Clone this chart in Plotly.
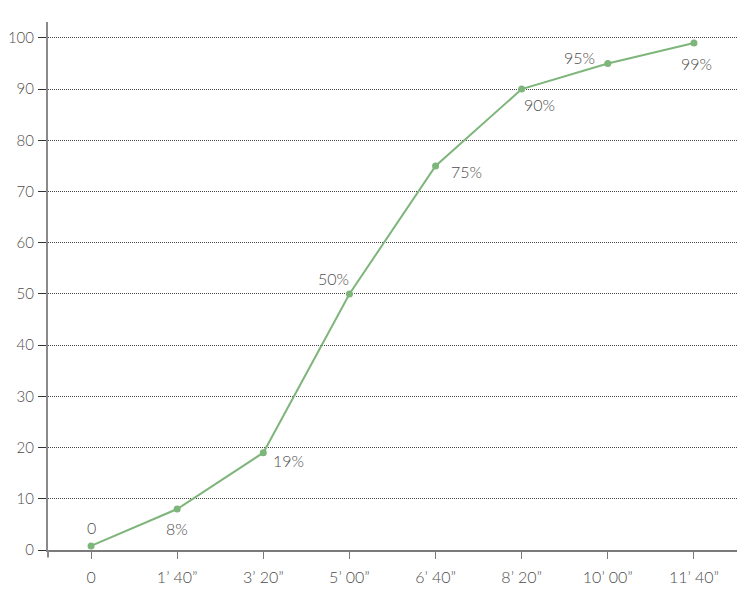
import plotly.graph_objects as go

categories = ["0", "1’ 40”", "3’ 20”", "5’ 00”", "6’ 40”", "8’ 20”", "10’ 00”", "11’ 40”"]
values = [0.8, 8, 19, 50, 75, 90, 95, 99]
labels = ["0", "8%", "19%", "50%", "75%", "90%", "95%", "99%"]
y_ticks = [0, 10, 20, 30, 40, 50, 60, 70, 80, 90, 100]

# label offsets in pixels (style only)
offsets = [(0, 18), (0, -19), (25, -8), (-16, 15), (31, -6), (18, -15), (-28, 6), (3, -20)]

green = "#7db57a"
grey_text = "#4d4d4d"
font_family = "Lato"

xs = list(range(len(categories)))
fig = go.Figure()
fig.add_trace(go.Scatter(
    x=xs, y=values, mode="lines+markers",
    line=dict(color=green, width=2),
    marker=dict(color=green, size=7),
    hoverinfo="skip", showlegend=False,
))

for i, (lab, (dx, dy)) in enumerate(zip(labels, offsets)):
    fig.add_annotation(x=xs[i], y=values[i], text=lab, showarrow=False,
                       xshift=dx, yshift=dy,
                       font=dict(family=font_family, size=16, color=grey_text, weight=300))

fig.update_layout(
    width=729, height=579,
    margin=dict(l=40, r=0, t=14, b=37, autoexpand=False),
    paper_bgcolor="white", plot_bgcolor="white",
    font=dict(family=font_family, size=16, color=grey_text, weight=300),
    xaxis=dict(
        range=[-0.5, len(categories) - 0.5],
        tickmode="array", tickvals=xs, ticktext=categories,
        showgrid=False, zeroline=False,
        showline=True, linecolor="#7a7a7a", linewidth=2,
        ticks="outside", ticklen=7, tickcolor="#7a7a7a", tickwidth=1,
        ticklabelstandoff=5,
        automargin=False,
        fixedrange=True,
    ),
    yaxis=dict(
        range=[0, 103.1],
        tickmode="array", tickvals=y_ticks,
        showgrid=True, gridcolor="#444444", gridwidth=1, griddash="1px,1px",
        zeroline=False,
        showline=True, linecolor="#8a8a8a", linewidth=2,
        ticks="outside", ticklen=8, tickcolor="#333333", tickwidth=1,
        ticklabelstandoff=1,
        tickfont=dict(size=15),
        automargin=False,
        fixedrange=True,
    ),
    shapes=[
        dict(type="line", xref="paper", yref="paper", x0=0, x1=0, y0=0, y1=-0.014,
             line=dict(color="#8a8a8a", width=2)),
    ],
)

fig.write_html("out.html")
